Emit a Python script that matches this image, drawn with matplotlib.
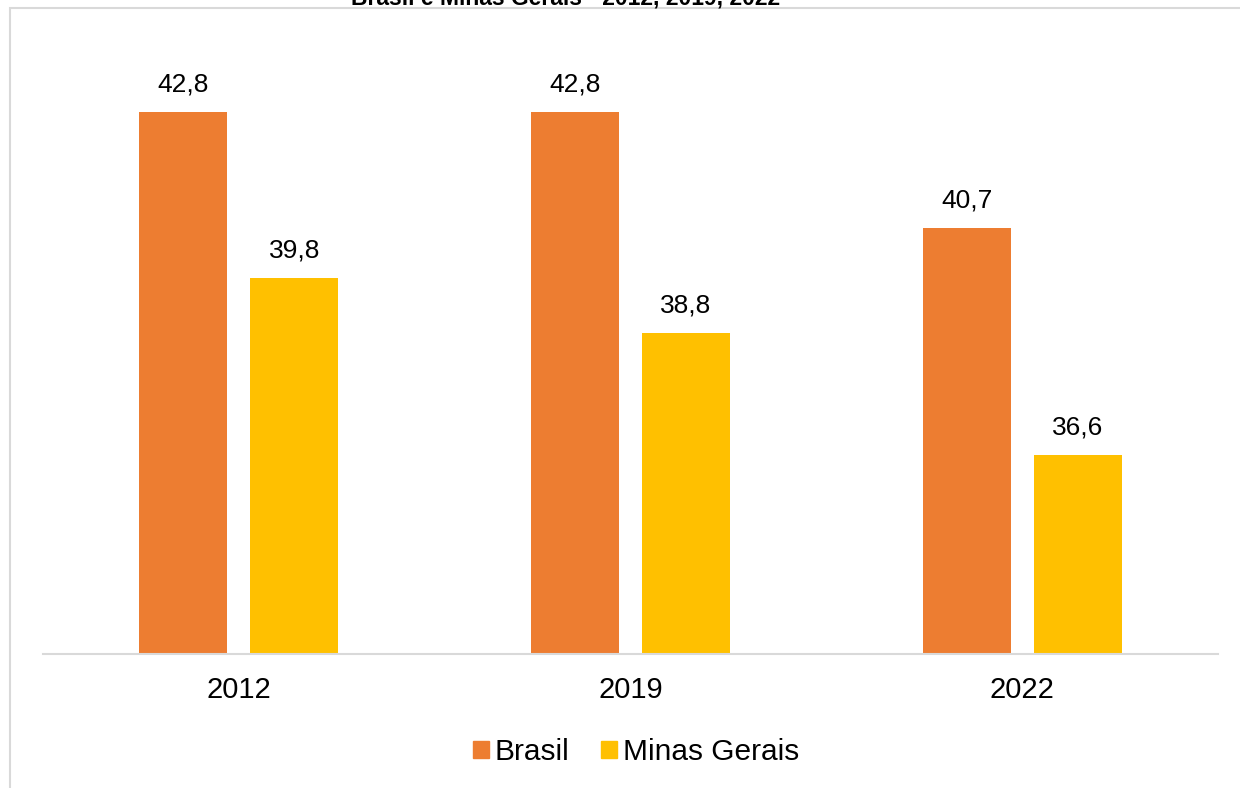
import numpy as np
import matplotlib
matplotlib.use('Agg')
import matplotlib.pyplot as plt
from matplotlib.patches import Rectangle, Patch

# Data
years = ['2012', '2019', '2022']
brasil = [42.8, 42.8, 40.7]
minas = [39.8, 38.8, 36.6]
series_names = ['Brasil', 'Minas Gerais']
colors = ['#ED7D31', '#FFC000']

plt.rcParams['font.family'] = ['Liberation Sans', 'DejaVu Sans']

W, H = 1240, 788
fig = plt.figure(figsize=(W / 100, H / 100), dpi=100)

# outer chart frame (only top and left edges visible in the crop)
fig.patches.append(Rectangle((9.5 / W, -0.1), 1.2, 1.1 - 8.5 / H,
                             transform=fig.transFigure, fill=False,
                             edgecolor='#d9d9d9', linewidth=1.5))

# title, clipped at the top like in the source image
fig.text(566 / W, 1 - 5 / H, 'Brasil e Minas Gerais - 2012, 2019, 2022',
         ha='center', va='baseline', fontsize=16.5, fontweight='bold')

left, right = 43 / W, 1218 / W
bottom = (H - 654) / H
ymin, ymax = 33, 44
top_px = 654 - (ymax - ymin) * 55.3
ax = fig.add_axes([left, bottom, right - left, (654 - top_px) / H])

x = np.arange(len(years))
w = 88 / 392
off = 55.5 / 392
b1 = ax.bar(x - off, brasil, w, color=colors[0])
b2 = ax.bar(x + off, minas, w, color=colors[1])

# value labels
for bars, vals in ((b1, brasil), (b2, minas)):
    for r, v in zip(bars, vals):
        ax.annotate(f'{v:.1f}'.replace('.', ','), (r.get_x() + r.get_width() / 2, v),
                    xytext=(0, 20), textcoords='offset points',
                    ha='center', va='center', fontsize=19)

ax.set_xlim(-0.5, 2.5)
ax.set_ylim(ymin, ymax)
ax.set_xticks(x)
ax.set_xticklabels(years, fontsize=21)
ax.tick_params(axis='x', length=0, pad=16)
ax.set_yticks([])
for s in ['top', 'right', 'left']:
    ax.spines[s].set_visible(False)
ax.spines['bottom'].set_color('#d9d9d9')
ax.spines['bottom'].set_linewidth(1.5)

handles = [Patch(color=c) for c in colors]
fig.legend(handles, series_names, loc='center', bbox_to_anchor=(636 / W, 1 - 752 / H),
           ncol=2, frameon=False, fontsize=21.5, handlelength=0.54, handleheight=0.54,
           handletextpad=0.2, columnspacing=1.05)

fig.savefig('out.png', dpi=100)
